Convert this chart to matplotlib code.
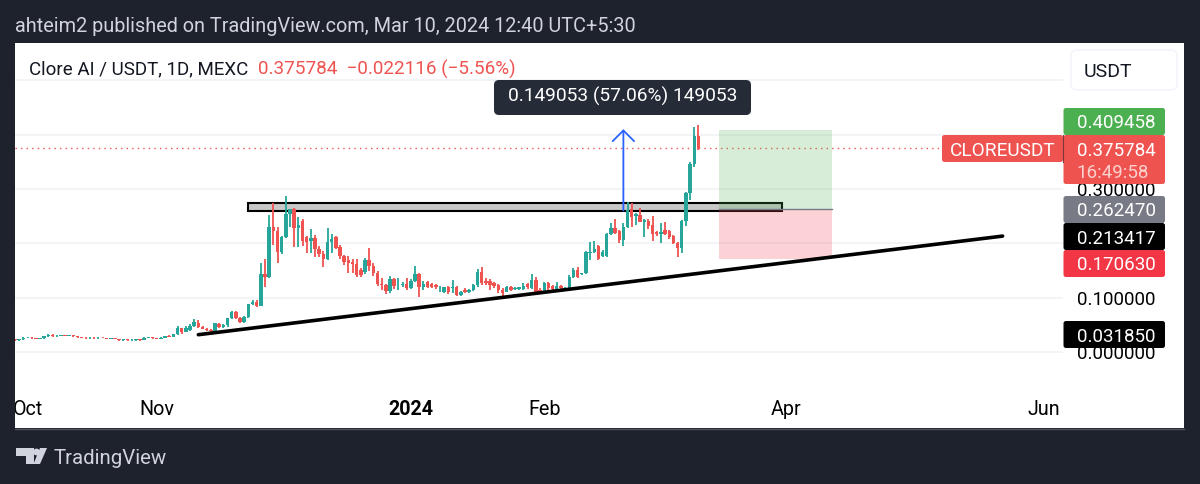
import pandas as pd
import matplotlib
matplotlib.use('Agg')
import matplotlib.pyplot as plt
import matplotlib.dates as mdates
from matplotlib.patches import FancyBboxPatch, Rectangle, Polygon, Circle

plt.rcParams['font.family'] = ['Roboto', 'DejaVu Sans']

# Daily candles
opens = [
    .023, .022, .023, .026, .026, .025, .024, .025, .029, .032,
    .029, .030, .031, .030, .031, .029, .027, .026, .025, .026,
    .025, .026, .025, .024, .025, .023, .022, .023, .022, .022,
    .023, .022, .026, .027, .025, .024, .026, .029, .028, .033,
    .044, .037, .040, .048, .053, .046, .043, .040, .038, .052,
    .046, .049, .062, .074, .063, .056, .064, .088, .092, .085,
    .144, .138, .230, .222, .185, .212, .255, .263, .228, .242,
    .211, .204, .209, .189, .180, .171, .203, .211, .194, .176,
    .169, .166, .162, .151, .148, .169, .158, .146, .126, .123,
    .113, .134, .123, .124, .125, .118, .131, .144, .120, .129,
    .125, .123, .119, .111, .119, .118, .120, .105, .114, .111,
    .115, .123, .148, .131, .131, .127, .123, .115, .111, .120,
    .116, .116, .116, .125, .117, .133, .115, .109, .127, .122,
    .116, .122, .115, .117, .138, .151, .144, .145, .182, .185,
    .195, .176, .177, .218, .229, .222, .206, .230, .263, .251,
    .252, .240, .241, .234, .221, .218, .225, .222, .213, .201,
    .191, .241, .292, .347, .398]
highs = [
    .024, .024, .027, .027, .027, .026, .026, .030, .034, .033,
    .032, .032, .032, .032, .032, .030, .028, .027, .027, .027,
    .027, .027, .026, .026, .026, .024, .024, .024, .023, .024,
    .024, .027, .028, .028, .026, .027, .030, .031, .034, .048,
    .045, .047, .051, .060, .058, .048, .045, .042, .054, .053,
    .051, .063, .075, .076, .065, .066, .089, .096, .096, .164,
    .172, .252, .274, .231, .214, .288, .264, .266, .249, .245,
    .214, .227, .215, .195, .186, .228, .218, .214, .197, .178,
    .176, .171, .172, .154, .173, .192, .164, .150, .136, .125,
    .140, .136, .136, .128, .136, .134, .158, .146, .130, .131,
    .127, .125, .121, .120, .121, .133, .122, .113, .117, .116,
    .125, .152, .157, .136, .135, .129, .126, .117, .122, .122,
    .119, .120, .127, .127, .144, .139, .117, .129, .128, .124,
    .128, .123, .119, .141, .154, .156, .146, .186, .203, .205,
    .197, .187, .220, .237, .245, .224, .238, .277, .274, .256,
    .265, .245, .244, .250, .222, .238, .240, .224, .215, .203,
    .243, .294, .349, .415, .418]
lows = [
    .021, .021, .022, .025, .024, .023, .023, .024, .028, .028,
    .028, .029, .029, .029, .028, .026, .025, .024, .024, .024,
    .024, .025, .023, .023, .023, .021, .021, .021, .021, .021,
    .021, .022, .025, .024, .023, .023, .025, .027, .027, .032,
    .033, .036, .039, .046, .044, .042, .038, .037, .036, .044,
    .044, .046, .060, .061, .054, .054, .062, .086, .082, .084,
    .120, .136, .197, .163, .181, .210, .231, .194, .194, .195,
    .182, .182, .175, .175, .157, .170, .182, .190, .171, .160,
    .145, .145, .139, .139, .144, .150, .140, .122, .114, .107,
    .108, .116, .114, .120, .115, .116, .129, .102, .114, .118,
    .118, .116, .111, .109, .106, .108, .104, .104, .108, .109,
    .113, .120, .123, .124, .114, .117, .109, .100, .110, .113,
    .114, .114, .115, .116, .116, .109, .107, .106, .112, .114,
    .114, .116, .113, .115, .136, .137, .142, .143, .169, .182,
    .169, .174, .175, .215, .217, .200, .195, .228, .231, .234,
    .240, .211, .226, .205, .214, .200, .215, .208, .198, .174,
    .183, .232, .280, .340, .372]
closes = [
    .022, .023, .026, .026, .025, .024, .025, .029, .032, .029,
    .030, .031, .030, .031, .029, .027, .026, .025, .026, .025,
    .026, .025, .024, .025, .023, .022, .023, .022, .022, .023,
    .022, .026, .027, .025, .024, .026, .029, .028, .033, .044,
    .037, .044, .048, .055, .046, .043, .040, .038, .053, .046,
    .049, .062, .074, .063, .056, .064, .088, .092, .085, .144,
    .138, .230, .222, .185, .212, .255, .263, .228, .234, .205,
    .203, .209, .189, .180, .171, .203, .208, .192, .176, .166,
    .164, .162, .142, .142, .169, .158, .146, .126, .123, .113,
    .134, .122, .124, .125, .118, .131, .144, .120, .125, .120,
    .120, .119, .120, .119, .111, .120, .105, .111, .110, .115,
    .123, .148, .127, .127, .123, .122, .114, .109, .120, .114,
    .118, .119, .122, .119, .133, .111, .110, .127, .117, .116,
    .122, .117, .118, .139, .151, .139, .146, .185, .185, .189,
    .172, .185, .218, .229, .220, .206, .231, .261, .249, .254,
    .240, .243, .232, .218, .218, .221, .217, .212, .201, .191,
    .241, .292, .347, .398, .375784]

last_date = '2024-03-10'
price_ticks = [0.0, 0.1, 0.2, 0.3, 0.4, 0.5]
# 0.2, 0.4 and 0.5 have no visible label in the picture, the tags sit there
price_tick_labels = ['0.000000', '0.100000', '', '0.300000', '', '']
month_dates = ['2023-10-01', '2023-11-01', '2024-01-01', '2024-02-02', '2024-03-31', '2024-06-01']
month_labels = ['Oct', 'Nov', '2024', 'Feb', 'Apr', 'Jun']

# drawings on the chart
zone_dates = ['2023-11-23', '2024-03-30']
zone_prices = [0.2594, 0.274]
trend_dates = ['2023-11-11', '2024-05-22']
trend_prices = [0.03185, 0.213417]
arrow_date = '2024-02-21'
arrow_prices = [0.2606, 0.4103]
pos_dates = ['2024-03-15', '2024-04-11']
target, entry, stop = 0.409458, 0.26247, 0.17063

# right hand price tags: text, box colour, centre row in pixels
tags = [
    ('0.409458', '#4caf50', 121.5),
    ('0.262470', '#787b86', 209.5),
    ('0.213417', '#000000', 236.5),
    ('0.170630', '#f23645', 263.5),
    ('0.031850', '#000000', 334.5),
]

DARK = '#1e222d'
UP = '#26a69a'
DOWN = '#ef5350'
W, H = 1200, 484


def px_box(x0, y0, x1, y1):
    return [x0 / W, 1 - y1 / H, (x1 - x0) / W, (y1 - y0) / H]


def tag(ax, x0, y0, x1, y1, color, r=2.5):
    ax.add_patch(FancyBboxPatch((x0 + r, y0 + r), x1 - x0 - 2 * r, y1 - y0 - 2 * r,
                                boxstyle=f'round,pad={r},rounding_size={r}',
                                fc=color, ec='none', mutation_aspect=1))


def main():
    fig = plt.figure(figsize=(W / 100, H / 100), dpi=100, facecolor=DARK)

    # white card behind the chart
    back = fig.add_axes([0, 0, 1, 1], zorder=0)
    back.set_xlim(0, W)
    back.set_ylim(H, 0)
    back.axis('off')
    back.add_patch(Rectangle((15, 43), 1169, 385, fc='white', ec='none'))
    back.plot([15, 1184], [428.5, 428.5], color='#50535e', lw=1)

    # price pane
    ax = fig.add_axes(px_box(15, 43, 1063, 390), zorder=1)
    ax.patch.set_alpha(0)
    dates = pd.date_range(end=last_date, periods=len(closes))
    colors = [UP if c >= o else DOWN for o, c in zip(opens, closes)]
    ax.vlines(dates, lows, highs, colors=colors, lw=1.3, zorder=3)
    ax.bar(dates, [abs(c - o) for o, c in zip(opens, closes)],
           bottom=[min(o, c) for o, c in zip(opens, closes)],
           width=0.82, color=colors, zorder=3)

    d = pd.to_datetime
    ax.axhline(closes[-1], color=DOWN, ls=(0, (1, 3)), lw=1, zorder=2)
    ax.add_patch(Rectangle((mdates.date2num(d(zone_dates[0])), zone_prices[0]),
                           mdates.date2num(d(zone_dates[1])) - mdates.date2num(d(zone_dates[0])),
                           zone_prices[1] - zone_prices[0],
                           fc='#c8c8c8', ec='black', lw=1.5, zorder=2.5))
    p0, p1 = mdates.date2num(d(pos_dates[0])), mdates.date2num(d(pos_dates[1]))
    ax.add_patch(Rectangle((p0, entry), p1 - p0, target - entry, fc='#4caf50', alpha=0.22, ec='none', zorder=4))
    ax.add_patch(Rectangle((p0, stop), p1 - p0, entry - stop, fc='#f23645', alpha=0.22, ec='none', zorder=4))
    ax.plot(d(pos_dates), [entry, entry], color='#787b86', lw=1, zorder=4)
    ax.plot(d(trend_dates), trend_prices, color='black', lw=2.6, solid_capstyle='round', zorder=5)
    ax.annotate('', xy=(d(arrow_date), arrow_prices[1]), xytext=(d(arrow_date), arrow_prices[0]),
                arrowprops=dict(arrowstyle='->,head_length=0.55,head_width=0.55', color='#2962ff',
                                lw=1.3, mutation_scale=14, shrinkA=0, shrinkB=0), zorder=5)

    ax.set_xlim(d('2023-09-28'), d('2024-06-05 12:00'))
    ax.set_ylim(-0.07, 0.569)
    ax.set_yticks(price_ticks)
    ax.set_yticklabels(price_tick_labels)
    ax.yaxis.tick_right()
    ax.set_xticks(d(month_dates))
    ax.set_xticklabels(month_labels)
    ax.tick_params(length=0, labelsize=13.5, labelcolor='black')
    ax.tick_params(axis='x', pad=7, labelsize=14.2)
    ax.tick_params(axis='y', pad=10)
    ax.get_xticklabels()[2].set_fontweight('bold')
    ax.grid(axis='y', color='#f1f2f4', lw=1.2, zorder=0)
    ax.set_axisbelow(True)
    for s in ax.spines.values():
        s.set_visible(False)

    # everything that sits on top: tags, title, tooltip
    top = fig.add_axes([0, 0, 1, 1], zorder=2)
    top.set_xlim(0, W)
    top.set_ylim(H, 0)
    top.axis('off')
    top.patch.set_alpha(0)
    top.add_patch(Rectangle((0, 380), 15, 60, fc=DARK, ec='none'))

    for label, color, y in tags:
        tag(top, 1063.5, y - 13.5, 1165, y + 13.5, color)
        top.text(1116.5, y, label, color='white', fontsize=13.5, ha='center', va='center_baseline')

    tag(top, 1063.5, 135, 1165, 184, DOWN)
    top.text(1116.5, 149, f'{closes[-1]:.6f}', color='white', fontsize=13.5, ha='center', va='center_baseline')
    top.text(1113, 171, '16:49:58', color='#fbd0cd', fontsize=13.5, ha='center', va='center_baseline')
    tag(top, 942, 135, 1063, 162, DOWN)
    top.plot([1063, 1063], [135, 162], color='#7a3a3a', lw=0.8)
    top.text(1002.5, 149, 'CLOREUSDT', color='white', fontsize=13.7, ha='center', va='center_baseline')

    top.add_patch(FancyBboxPatch((1074, 53), 100, 34, boxstyle='round,pad=3,rounding_size=6',
                                 fc='white', ec='#f0f3fa', lw=1))
    top.text(1084, 70, 'USDT', color='#131722', fontsize=14, va='center_baseline')

    top.text(15, 25, 'ahteim2 published on TradingView.com, Mar 10, 2024 12:40 UTC+5:30',
             color='#d1d4dc', fontsize=14.3, va='center_baseline')
    top.text(29, 67, 'Clore AI / USDT, 1D, MEXC', color='#131722', fontsize=13.5, va='center_baseline')
    top.text(258, 67, f'{closes[-1]:.6f}  \u22120.022116 (\u22125.56%)', color=DOWN, fontsize=13.6,
             va='center_baseline')

    tag(top, 494, 80, 751, 115, '#262b38', r=5)
    top.text(622.5, 94, '0.149053 (57.06%) 149053', color='white', fontsize=13.8, ha='center',
             va='center_baseline')

    # TradingView logo and name
    logo = '#d1d4dc'
    top.add_patch(Polygon([(16, 448), (34, 448), (34, 464), (26, 464), (26, 456), (16, 456)], fc=logo, ec='none'))
    top.add_patch(Circle((36.5, 452), 3.4, fc=logo, ec='none'))
    top.add_patch(Polygon([(40, 448), (47, 448), (40, 464), (33.5, 464)], fc=logo, ec='none'))
    top.text(53, 457, 'TradingView', color=logo, fontsize=14.7, va='center_baseline')

    fig.savefig('out.png', dpi=100, facecolor=fig.get_facecolor())


if __name__ == "__main__":
    main()
